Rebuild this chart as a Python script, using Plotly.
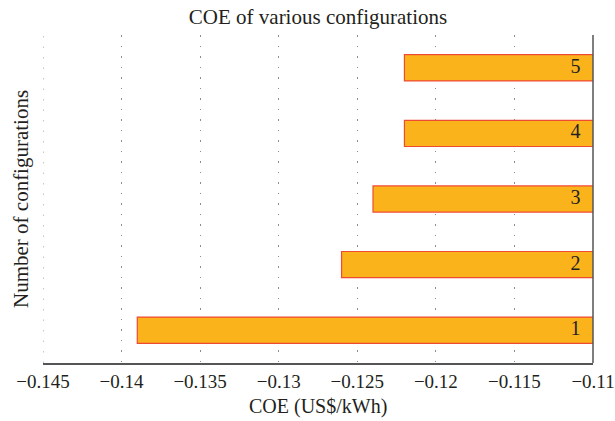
import plotly.graph_objects as go

configurations = [1, 2, 3, 4, 5]
coe_values = [-0.139, -0.126, -0.124, -0.122, -0.122]
bar_labels = ["1", "2", "3", "4", "5"]
x_tick_values = [-0.145, -0.14, -0.135, -0.13, -0.125, -0.12, -0.115, -0.11]
x_tick_labels = ["−0.145", "−0.14", "−0.135", "−0.13", "−0.125", "−0.12", "−0.115", "−0.11"]

X_MIN, X_MAX = -0.145, -0.11
FONT = "Liberation Serif"
TEXT_COLOR = "#231f20"
GRID_DASH = "1.5px,9px"
GRID_COLOR = "#8c8c8c"
W, H = 615, 421
M = dict(l=43, r=22, t=35, b=58)

fig = go.Figure()
fig.add_trace(go.Bar(
    y=configurations,
    x=coe_values,
    orientation="h",
    width=0.4,
    marker=dict(color="#fbb31c", line=dict(color="#ef4b32", width=1.2)),
    hoverinfo="x",
    showlegend=False,
))
fig.add_trace(go.Scatter(
    y=configurations,
    x=[X_MAX - 0.0008] * len(configurations),
    mode="text",
    text=bar_labels,
    textposition="middle left",
    textfont=dict(family=FONT, size=20, color=TEXT_COLOR),
    hoverinfo="skip",
    showlegend=False,
    cliponaxis=False,
))

fig.update_layout(
    width=W,
    height=H,
    margin=dict(**M, autoexpand=False),
    paper_bgcolor="white",
    plot_bgcolor="white",
    font=dict(family=FONT, size=21, color=TEXT_COLOR),
    title=dict(
        text="COE of various configurations",
        x=0.5, xref="paper", xanchor="center",
        y=1 - 17 / H, yanchor="middle",
        font=dict(family=FONT, size=21, color=TEXT_COLOR),
    ),
)
fig.update_xaxes(
    range=[X_MIN, X_MAX],
    tickvals=x_tick_values,
    ticktext=x_tick_labels,
    showgrid=True,
    gridcolor=GRID_COLOR,
    gridwidth=1,
    griddash=GRID_DASH,
    zeroline=False,
    showline=True,
    linecolor="#555555",
    linewidth=1.5,
    ticks="",
    ticklen=0,
    ticklabeloverflow="allow",
    automargin=False,
    tickfont=dict(family=FONT, size=19, color=TEXT_COLOR),
)
fig.update_yaxes(
    range=[0.5, 5.5],
    showticklabels=False,
    showgrid=False,
    zeroline=False,
    showline=False,
    ticks="",
    automargin=False,
)
# left-edge gridline (plotly drops gridlines at the range edge)
fig.add_shape(type="line", xref="x", yref="paper", x0=X_MIN, x1=X_MIN, y0=0, y1=1,
              line=dict(color=GRID_COLOR, width=1, dash=GRID_DASH), layer="below")
# right frame line
fig.add_shape(type="line", xref="paper", yref="paper", x0=1, x1=1, y0=0, y1=1,
              line=dict(color="#555555", width=1.5))
# axis titles
fig.add_annotation(text="COE (US$/kWh)", xref="paper", yref="paper", x=0.5, y=0,
                   xanchor="center", yanchor="middle", yshift=-43, showarrow=False,
                   font=dict(family=FONT, size=20, color=TEXT_COLOR))
fig.add_annotation(text="Number of configurations", xref="paper", yref="paper", x=0, y=0.5,
                   xanchor="center", yanchor="middle", xshift=-22, textangle=-90,
                   showarrow=False, font=dict(family=FONT, size=21, color=TEXT_COLOR))

fig.write_html(
    "out.html",
    config={"displayModeBar": False},
    post_script="document.body.style.margin='0';document.body.style.padding='0';document.body.style.overflow='hidden';",
)
